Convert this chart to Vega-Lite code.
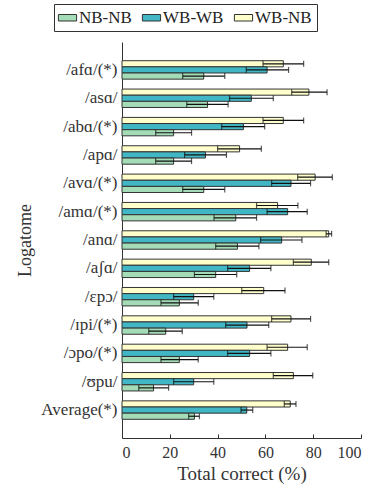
{
  "$schema": "https://vega.github.io/schema/vega-lite/v6.json",
  "autosize": {"type": "none"},
  "width": 239,
  "height": 396,
  "padding": {"left": 122, "top": 42, "right": 14, "bottom": 48},
  "config": {
    "font": "Liberation Serif",
    "view": {"stroke": null},
    "axis": {"grid": false, "domainColor": "#333333", "tickColor": "#333333", "labelColor": "#333333", "titleColor": "#333333", "titleFontWeight": "normal"}
  },
  "data": {
    "values": [
      {"cat": "/afɑ/(*)", "series": "WB-NB", "value": 67.5, "lo": 59.0, "hi": 76.0},
      {"cat": "/afɑ/(*)", "series": "WB-WB", "value": 60.7, "lo": 52.0, "hi": 69.7},
      {"cat": "/afɑ/(*)", "series": "NB-NB", "value": 34.2, "lo": 25.4, "hi": 43.0},
      {"cat": "/asɑ/", "series": "WB-NB", "value": 78.2, "lo": 71.0, "hi": 85.8},
      {"cat": "/asɑ/", "series": "WB-WB", "value": 54.1, "lo": 45.0, "hi": 63.3},
      {"cat": "/asɑ/", "series": "NB-NB", "value": 35.8, "lo": 27.1, "hi": 44.4},
      {"cat": "/abɑ/(*)", "series": "WB-NB", "value": 67.5, "lo": 59.0, "hi": 76.0},
      {"cat": "/abɑ/(*)", "series": "WB-WB", "value": 50.8, "lo": 41.7, "hi": 59.7},
      {"cat": "/abɑ/(*)", "series": "NB-NB", "value": 21.6, "lo": 14.1, "hi": 29.1},
      {"cat": "/apɑ/", "series": "WB-NB", "value": 49.2, "lo": 40.0, "hi": 58.3},
      {"cat": "/apɑ/", "series": "WB-WB", "value": 34.9, "lo": 26.2, "hi": 43.7},
      {"cat": "/apɑ/", "series": "NB-NB", "value": 21.6, "lo": 14.1, "hi": 29.1},
      {"cat": "/avɑ/(*)", "series": "WB-NB", "value": 80.8, "lo": 73.5, "hi": 88.0},
      {"cat": "/avɑ/(*)", "series": "WB-WB", "value": 70.7, "lo": 62.6, "hi": 78.9},
      {"cat": "/avɑ/(*)", "series": "NB-NB", "value": 34.2, "lo": 25.4, "hi": 43.0},
      {"cat": "/amɑ/(*)", "series": "WB-NB", "value": 65.1, "lo": 56.3, "hi": 73.6},
      {"cat": "/amɑ/(*)", "series": "WB-WB", "value": 69.3, "lo": 60.7, "hi": 77.5},
      {"cat": "/amɑ/(*)", "series": "NB-NB", "value": 47.6, "lo": 38.5, "hi": 56.3},
      {"cat": "/anɑ/", "series": "WB-NB", "value": 86.5, "lo": 85.4, "hi": 87.7},
      {"cat": "/anɑ/", "series": "WB-WB", "value": 66.8, "lo": 58.0, "hi": 75.3},
      {"cat": "/anɑ/", "series": "NB-NB", "value": 48.3, "lo": 39.2, "hi": 57.3},
      {"cat": "/aʃɑ/", "series": "WB-NB", "value": 79.2, "lo": 71.7, "hi": 86.5},
      {"cat": "/aʃɑ/", "series": "WB-WB", "value": 53.4, "lo": 44.2, "hi": 62.3},
      {"cat": "/aʃɑ/", "series": "NB-NB", "value": 39.2, "lo": 30.3, "hi": 48.0},
      {"cat": "/ɛpɔ/", "series": "WB-NB", "value": 59.3, "lo": 50.1, "hi": 68.2},
      {"cat": "/ɛpɔ/", "series": "WB-WB", "value": 30.0, "lo": 21.6, "hi": 38.4},
      {"cat": "/ɛpɔ/", "series": "NB-NB", "value": 24.0, "lo": 16.3, "hi": 31.9},
      {"cat": "/ɪpi/(*)", "series": "WB-NB", "value": 70.7, "lo": 62.6, "hi": 78.9},
      {"cat": "/ɪpi/(*)", "series": "WB-WB", "value": 52.3, "lo": 43.4, "hi": 61.4},
      {"cat": "/ɪpi/(*)", "series": "NB-NB", "value": 18.3, "lo": 11.2, "hi": 25.2},
      {"cat": "/ɔpo/(*)", "series": "WB-NB", "value": 69.3, "lo": 60.7, "hi": 77.5},
      {"cat": "/ɔpo/(*)", "series": "WB-WB", "value": 53.4, "lo": 44.2, "hi": 62.3},
      {"cat": "/ɔpo/(*)", "series": "NB-NB", "value": 24.0, "lo": 16.3, "hi": 31.9},
      {"cat": "/ʊpu/", "series": "WB-NB", "value": 71.7, "lo": 63.3, "hi": 79.8},
      {"cat": "/ʊpu/", "series": "WB-WB", "value": 30.0, "lo": 21.6, "hi": 38.4},
      {"cat": "/ʊpu/", "series": "NB-NB", "value": 13.2, "lo": 7.0, "hi": 19.5},
      {"cat": "Average(*)", "series": "WB-NB", "value": 70.4, "lo": 67.9, "hi": 72.8},
      {"cat": "Average(*)", "series": "WB-WB", "value": 52.2, "lo": 49.8, "hi": 54.7},
      {"cat": "Average(*)", "series": "NB-NB", "value": 30.3, "lo": 27.9, "hi": 32.4}
    ]
  },
  "encoding": {
    "y": {
      "field": "cat", "type": "nominal", "sort": null,
      "scale": {"paddingInner": 0.35, "paddingOuter": 0.66},
      "axis": {"title": "Logatome", "ticks": false, "labelFontSize": 17, "labelPadding": 5, "titleFontSize": 18, "titlePadding": 6}
    },
    "yOffset": {
      "field": "series", "type": "nominal",
      "scale": {"domain": ["WB-NB", "WB-WB", "NB-NB"], "paddingInner": 0, "paddingOuter": 0}
    }
  },
  "layer": [
    {
      "mark": {"type": "bar", "stroke": "#333333", "strokeWidth": 1},
      "encoding": {
        "x": {
          "field": "value", "type": "quantitative",
          "scale": {"domain": [0, 100], "nice": false},
          "axis": {"title": "Total correct (%)", "values": [0, 20, 40, 60, 80, 100], "tickSize": -4, "labelPadding": 10, "labelFontSize": 16, "titleFontSize": 19, "titlePadding": 4}
        },
        "color": {
          "field": "series", "type": "nominal",
          "scale": {"domain": ["NB-NB", "WB-WB", "WB-NB"], "range": ["#a3dcb6", "#41b6c4", "#ffffcc"]},
          "legend": {
            "title": null, "orient": "none", "legendX": -68, "legendY": -38,
            "direction": "horizontal", "columns": 3, "columnPadding": 8,
            "symbolType": "M-1.4,-0.5H1.4V0.5H-1.4Z", "symbolSize": 169,
            "symbolStrokeColor": "#333333", "symbolStrokeWidth": 1,
            "labelFontSize": 17, "labelOffset": 3, "labelColor": "#222222",
            "strokeColor": "#333333", "padding": 5, "fillColor": "white"
          }
        }
      }
    },
    {
      "mark": {"type": "rule", "color": "#111111", "strokeWidth": 1.2},
      "encoding": {"x": {"field": "lo", "type": "quantitative"}, "x2": {"field": "hi"}}
    },
    {
      "mark": {"type": "tick", "color": "#111111", "thickness": 1.2, "size": 6, "orient": "vertical"},
      "encoding": {"x": {"field": "lo", "type": "quantitative"}}
    },
    {
      "mark": {"type": "tick", "color": "#111111", "thickness": 1.2, "size": 6, "orient": "vertical"},
      "encoding": {"x": {"field": "hi", "type": "quantitative"}}
    }
  ]
}
